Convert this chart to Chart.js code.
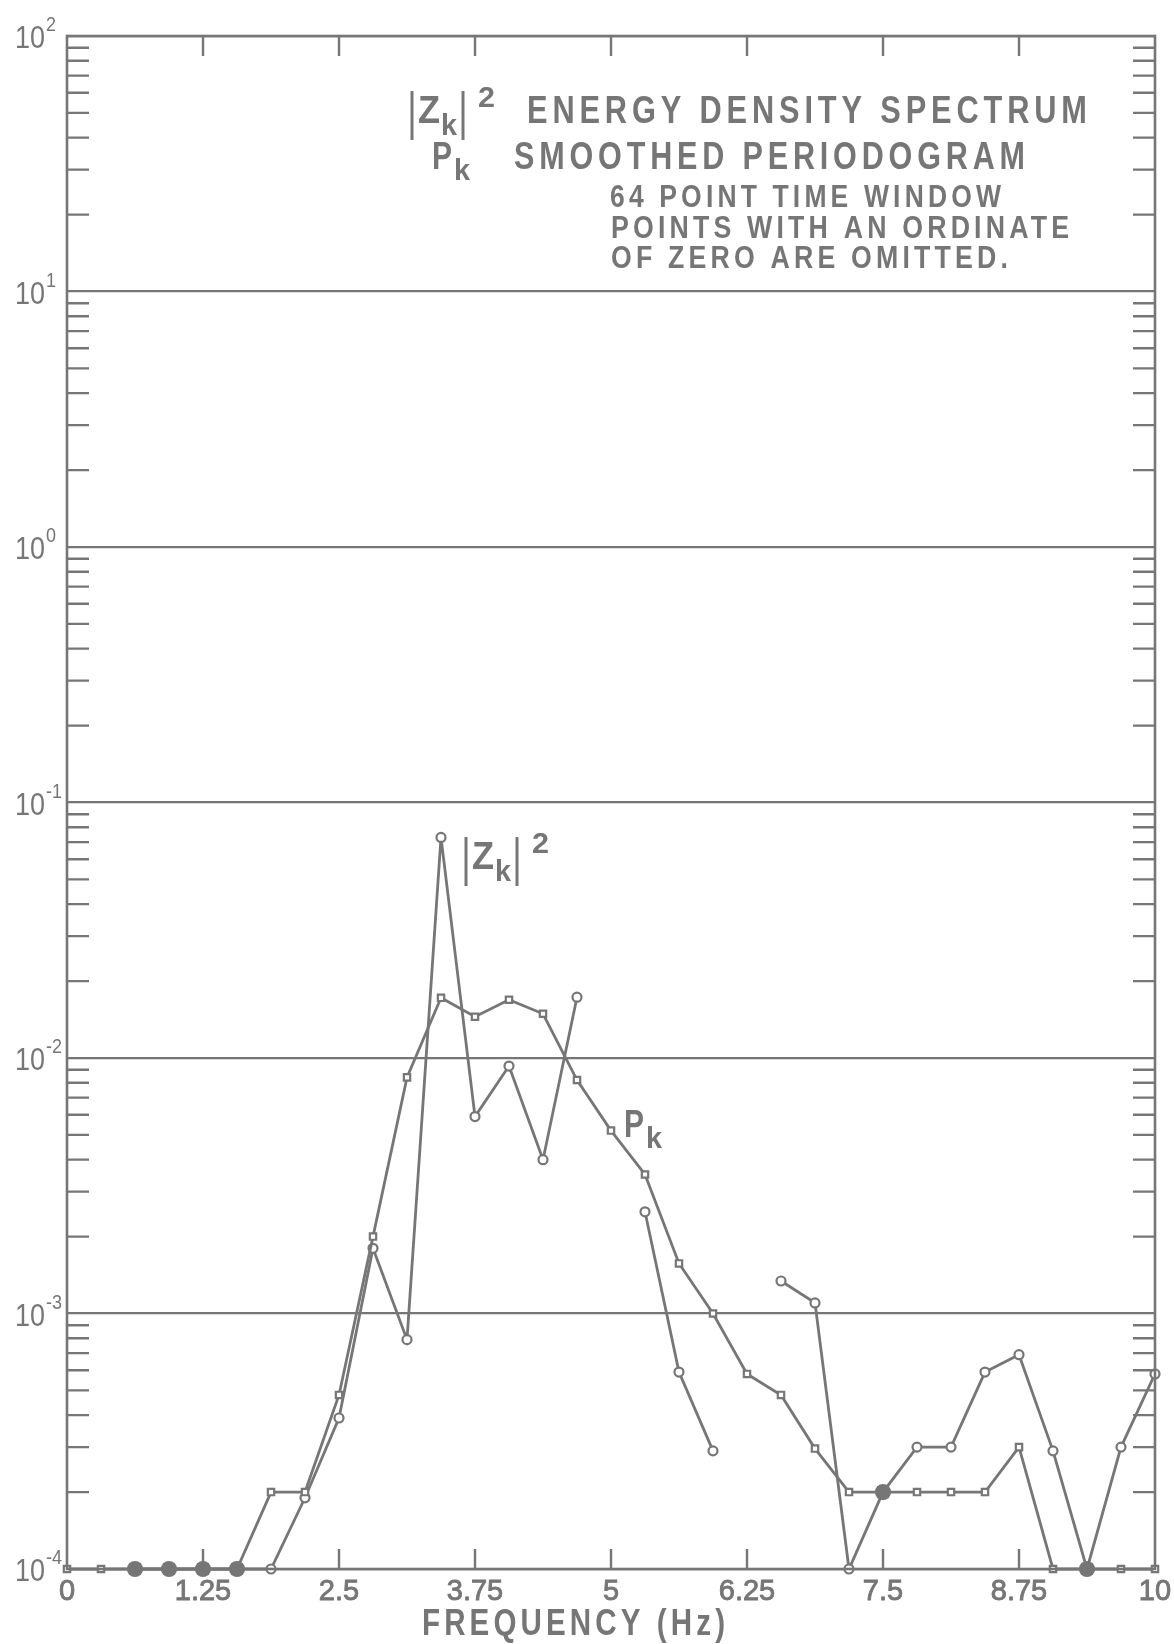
<!DOCTYPE html>
<html>
<head>
<meta charset="utf-8">
<title>Energy density spectrum</title>
<script src="https://cdn.jsdelivr.net/npm/chart.js@4.4.1/dist/chart.umd.min.js"></script>
<style>
  body { margin: 0; background: #ffffff; }
  canvas { display: block; }
</style>
</head>
<body>
<canvas id="spectrum" width="1174" height="1644"></canvas>
<script>
// frequency of each spectral line (Hz), 64 point window
const FREQ = [0, 0.3125, 0.625, 0.9375, 1.25, 1.5625, 1.875, 2.1875, 2.5, 2.8125, 3.125,
              3.4375, 3.75, 4.0625, 4.375, 4.6875, 5, 5.3125, 5.625, 5.9375, 6.25,
              6.5625, 6.875, 7.1875, 7.5, 7.8125, 8.125, 8.4375, 8.75, 9.0625, 9.375,
              9.6875, 10];

// |Z_k|^2 energy density spectrum (null = zero ordinate, left out)
const ZK_SQ = [null, null, 1e-4, 1e-4, 1e-4, 1e-4, 1e-4, 1.9e-4, 3.9e-4, 1.8e-3, 7.9e-4,
               0.073, 5.9e-3, 9.3e-3, 4.0e-3, 0.0173, null, 2.5e-3, 5.9e-4, 2.9e-4, null,
               1.34e-3, 1.1e-3, 1e-4, 2e-4, 3e-4, 3e-4, 5.9e-4, 6.9e-4, 2.9e-4, 1e-4,
               3e-4, 5.8e-4];

// P_k smoothed periodogram
const PK = [1e-4, 1e-4, 1e-4, 1e-4, 1e-4, 1e-4, 2e-4, 2e-4, 4.8e-4, 2.0e-3, 8.4e-3,
            0.0172, 0.0145, 0.0169, 0.0149, 8.2e-3, 5.2e-3, 3.5e-3, 1.57e-3, 1.0e-3, 5.8e-4,
            4.8e-4, 2.96e-4, 2e-4, 2e-4, 2e-4, 2e-4, 2e-4, 3e-4, 1e-4, 1e-4,
            1e-4, 1e-4];

const X_TICKS = [0, 1.25, 2.5, 3.75, 5, 6.25, 7.5, 8.75, 10];
const X_TICK_LABELS = ['0', '1.25', '2.5', '3.75', '5', '6.25', '7.5', '8.75', '10'];
const Y_DECADES = [-4, -3, -2, -1, 0, 1, 2];
const Y_EXPONENT_LABELS = ['-4', '-3', '-2', '-1', '0', '1', '2'];

const INK = '#767676';
const FONT = "'Liberation Sans', 'DejaVu Sans', sans-serif";

function isDecade(v) {
    const l = Math.log10(v);
    return Math.abs(l - Math.round(l)) < 1e-6;
}

// both curves sit on the same spot -> heavy dot
function sameSpot(i) {
    return ZK_SQ[i] !== null && ZK_SQ[i] === PK[i];
}

// text squeezed or stretched to a given width, lettering-guide style
function fitText(ctx, str, x, baseline, width, size, weight, spacing) {
    ctx.save();
    ctx.font = weight + ' ' + size + 'px ' + FONT;
    ctx.letterSpacing = (spacing || 0) + 'px';
    const w = ctx.measureText(str).width - (spacing || 0);
    ctx.translate(x, baseline);
    ctx.scale(width / w, 1);
    ctx.textAlign = 'left';
    ctx.textBaseline = 'alphabetic';
    ctx.fillText(str, 0, 0);
    ctx.restore();
}

function bar(ctx, x, y1, y2) {
    ctx.beginPath();
    ctx.moveTo(x, y1);
    ctx.lineTo(x, y2);
    ctx.stroke();
}

// |Z_k|^2 symbol, x is the left edge of the Z
function drawZk(ctx, x, baseline) {
    ctx.lineWidth = 3;
    bar(ctx, x - 6, baseline - 32, baseline + 17);
    fitText(ctx, 'Z', x, baseline, 22, 38, 'bold');
    fitText(ctx, 'k', x + 23, baseline + 12, 16, 30, 'bold');
    bar(ctx, x + 45, baseline - 32, baseline + 17);
    fitText(ctx, '2', x + 60, baseline - 16, 17, 29, 'bold');
}

function drawPk(ctx, x, baseline) {
    fitText(ctx, 'P', x, baseline, 20, 38, 'bold');
    fitText(ctx, 'k', x + 22, baseline + 11, 16, 30, 'bold');
}

const paperPlugin = {
    id: 'paper',
    afterDraw(chart) {
        const ctx = chart.ctx;
        const a = chart.chartArea;
        const xs = chart.scales.x;
        const ys = chart.scales.y;
        ctx.save();
        ctx.strokeStyle = INK;
        ctx.fillStyle = INK;
        ctx.lineCap = 'butt';

        // frame
        ctx.lineWidth = 2.6;
        ctx.strokeRect(a.left, a.top, a.right - a.left, a.bottom - a.top);

        // minor ticks on both sides, 2..9 of every decade
        ctx.lineWidth = 2.4;
        ys.ticks.forEach(t => {
            if (isDecade(t.value)) return;
            const y = ys.getPixelForValue(t.value);
            ctx.beginPath();
            ctx.moveTo(a.left, y); ctx.lineTo(a.left + 22, y);
            ctx.moveTo(a.right, y); ctx.lineTo(a.right - 22, y);
            ctx.stroke();
        });

        // frequency ticks top and bottom
        X_TICKS.forEach((v, i) => {
            const x = xs.getPixelForValue(v);
            if (i > 0 && i < X_TICKS.length - 1) {
                ctx.beginPath();
                ctx.moveTo(x, a.bottom); ctx.lineTo(x, a.bottom - 20);
                ctx.moveTo(x, a.top); ctx.lineTo(x, a.top + 20);
                ctx.stroke();
            }
            ctx.save();
            ctx.font = '29px ' + FONT;
            ctx.textAlign = 'center';
            ctx.textBaseline = 'alphabetic';
            ctx.lineWidth = 0.9;
            ctx.fillText(X_TICK_LABELS[i], x, a.bottom + 31);
            ctx.strokeText(X_TICK_LABELS[i], x, a.bottom + 31);
            ctx.restore();
        });

        // decade labels 10^n
        Y_DECADES.forEach((e, i) => {
            const y = ys.getPixelForValue(Math.pow(10, e));
            fitText(ctx, '10', 15, y + 12, 30, 31, 'normal');
            const ex = Y_EXPONENT_LABELS[i];
            fitText(ctx, ex, 46, y - 5, ex.length > 1 ? 16 : 10, 21, 'normal');
        });

        // axis title
        fitText(ctx, 'FREQUENCY (Hz)', 422, a.bottom + 66, 303, 36, 'bold', 5);

        // key
        drawZk(ctx, 418, 123);
        fitText(ctx, 'ENERGY DENSITY SPECTRUM', 527, 123, 560, 38, 'bold', 6);
        drawPk(ctx, 432, 169);
        fitText(ctx, 'SMOOTHED PERIODOGRAM', 514, 169, 511, 38, 'bold', 6);
        fitText(ctx, '64 POINT TIME WINDOW', 610, 207, 391, 32, 'bold', 5);
        fitText(ctx, 'POINTS WITH AN ORDINATE', 611, 238, 458, 32, 'bold', 5);
        fitText(ctx, 'OF ZERO ARE OMITTED.', 611, 268, 397, 32, 'bold', 5);

        // curve labels
        drawZk(ctx, 472, 869);
        drawPk(ctx, 624, 1137);

        ctx.restore();
    }
};

function points(values) {
    return FREQ.map((f, i) => ({ x: f, y: values[i] }));
}

const ctx = document.getElementById('spectrum').getContext('2d');

const chart = new Chart(ctx, {
    type: 'line',
    data: {
        datasets: [
            {
                label: '|Zk|^2',
                data: points(ZK_SQ),
                borderColor: INK,
                borderWidth: 2.8,
                pointStyle: 'circle',
                pointRadius: c => sameSpot(c.dataIndex) ? 7 : 4.5,
                pointBorderWidth: 2.2,
                pointBorderColor: INK,
                pointBackgroundColor: c => sameSpot(c.dataIndex) ? INK : '#ffffff',
                tension: 0,
                spanGaps: false,
                clip: false,
                order: 2
            },
            {
                label: 'Pk',
                data: points(PK),
                borderColor: INK,
                borderWidth: 2.8,
                pointStyle: 'rect',
                pointRadius: c => sameSpot(c.dataIndex) ? 7 : 4.5,
                pointBorderWidth: 2.2,
                pointBorderColor: INK,
                pointBackgroundColor: c => sameSpot(c.dataIndex) ? INK : '#ffffff',
                tension: 0,
                clip: false,
                order: 1
            }
        ]
    },
    options: {
        responsive: false,
        animation: false,
        layout: { padding: { left: 0, top: 36, right: 19, bottom: 75 } },
        plugins: {
            legend: { display: false },
            tooltip: { enabled: false }
        },
        scales: {
            x: {
                type: 'linear',
                min: 0,
                max: 10,
                ticks: { display: false },
                grid: { display: false, drawTicks: false },
                border: { display: false },
                afterFit: s => { s.height = 0; }
            },
            y: {
                type: 'logarithmic',
                min: 1e-4,
                max: 100,
                ticks: { display: false },
                border: { display: false },
                grid: {
                    drawTicks: false,
                    lineWidth: 2.2,
                    color: c => (c.tick && isDecade(c.tick.value)) ? INK : 'rgba(0,0,0,0)'
                },
                afterBuildTicks: scale => {
                    const t = [];
                    Y_DECADES.forEach(e => {
                        t.push({ value: Math.pow(10, e) });
                        if (e < 2) {
                            for (let m = 2; m <= 9; m++) t.push({ value: m * Math.pow(10, e) });
                        }
                    });
                    scale.ticks = t;
                },
                afterFit: s => { s.width = 67; }
            }
        }
    },
    plugins: [paperPlugin]
});
</script>
</body>
</html>
